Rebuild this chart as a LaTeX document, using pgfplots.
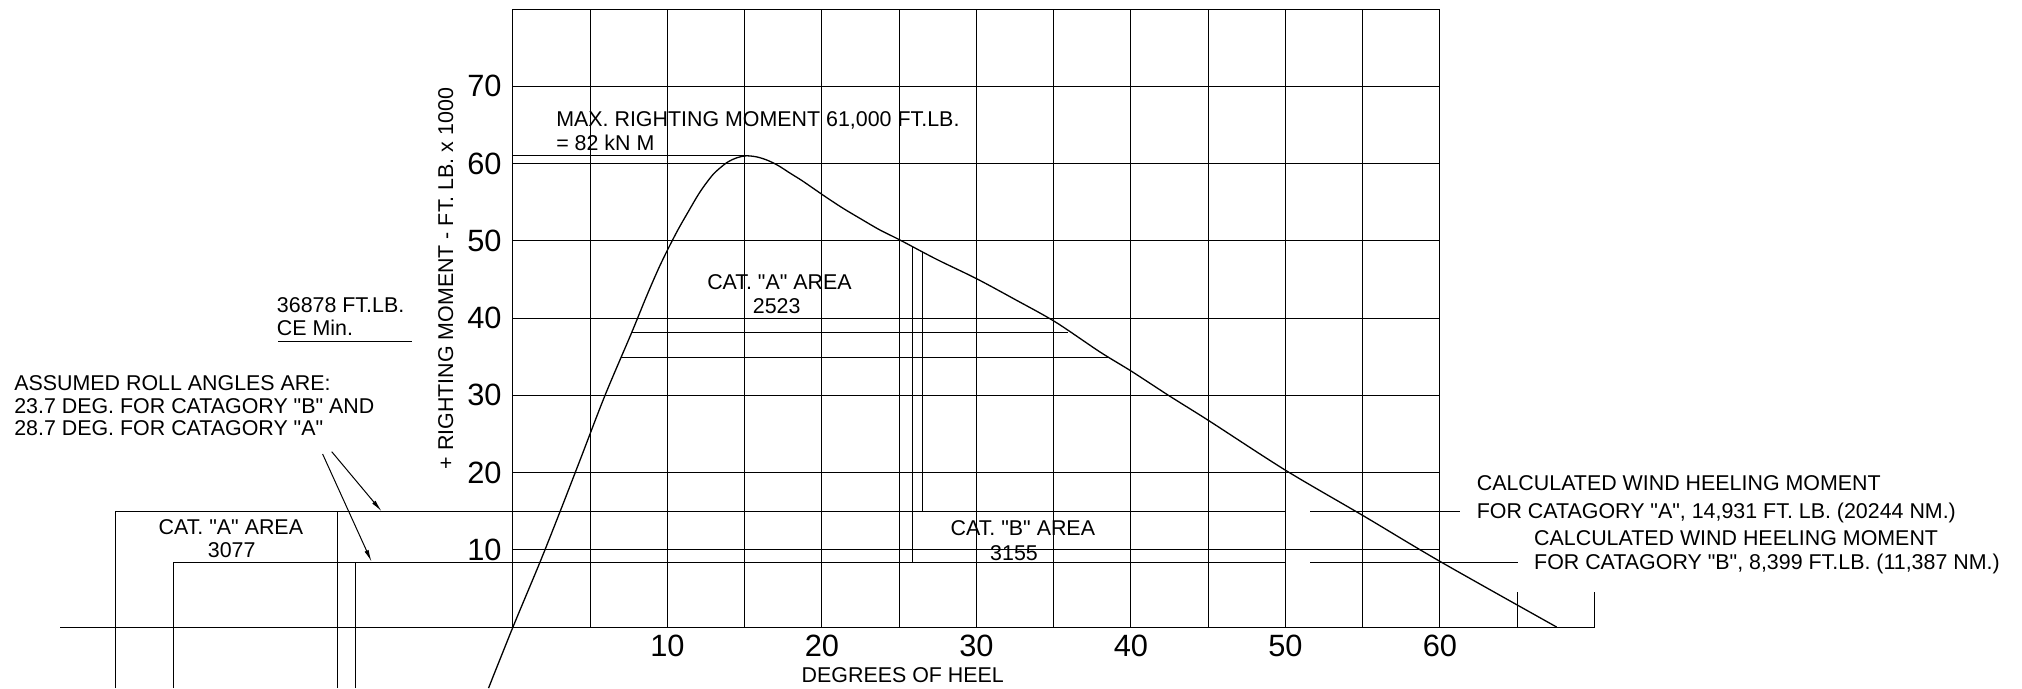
\documentclass[border=0pt]{standalone}
\usepackage{fontspec}
\setmainfont{Liberation Sans}[Ligatures=TeXOff]
\usepackage{pgfplots}
\pgfplotsset{compat=1.18}
\usetikzlibrary{arrows.meta}
\newcommand\af{\fontsize{10.7}{11.7}\selectfont}
\begin{document}
\begin{tikzpicture}[lbl/.style={font=\af, inner sep=0pt}, ln/.style={black, line width=0.5pt}]
\begin{axis}[
  x=7.725pt, y=3.8625pt,
  xmin=0, xmax=60, ymin=0, ymax=80,
  clip=false,
  axis line style={black, line width=0.5pt},
  grid=major,
  grid style={black, line width=0.5pt},
  major tick length=0pt,
  xtick={0,5,...,60},
  xticklabels={,,10,,20,,30,,40,,50,,60},
  ytick={0,10,...,80},
  yticklabels={,10,20,30,40,50,60,70,},
  xticklabel style={anchor=north, inner sep=0pt, yshift=-4pt},
  yticklabel style={anchor=east, inner sep=0pt, xshift=-5.5pt},
  ticklabel style={font=\fontsize{15.4}{18}\selectfont},
]
% page extent
\path (axis cs:-33.2,-7.9) rectangle (axis cs:97.67,81.17);

% righting moment curve
\addplot[black, line width=0.65pt, smooth, tension=0.5] coordinates {
(-1.58,-7.9) (0,0) (1.75,8.4) (3.06,15.0) (4.34,21.6) (5.95,29.95)
(7.68,38.1) (8.6,42.6) (9.4,46.3) (10.05,49.0) (10.7,51.5)
(11.3,53.6) (12.1,56.3) (12.96,58.6) (13.83,60.1) (14.5,60.75)
(15.1,61.0) (15.8,60.85) (16.5,60.4) (17.2,59.7) (17.9,58.8)
(18.7,57.8) (19.5,56.7) (20.3,55.6) (21.37,54.2) (22.46,52.9)
(23.75,51.4) (25.05,50.1) (27.42,47.6) (30,45.1) (32.5,42.4)
(35.1,39.5) (38.0,35.6) (40.04,33.1) (42.46,29.95) (45.05,26.7)
(50,20.3) (55.04,14.4) (60.04,8.45) (67.55,0)
};

% base line and end ticks
\addplot[ln] coordinates {(-29.3,0) (70,0)};
\addplot[ln] coordinates {(65.03,0) (65.03,4.57)};
\addplot[ln] coordinates {(70,0) (70,4.57)};

% heeling moment lines (cat A 14.93, cat B 8.40)
\addplot[ln] coordinates {(-25.7,-7.9) (-25.7,14.93) (50,14.93)};
\addplot[ln] coordinates {(-22.0,-7.9) (-22.0,8.40) (50,8.40)};
\addplot[ln] coordinates {(50,8.40) (50,20.3)};
\addplot[ln] coordinates {(-11.33,-7.9) (-11.33,14.93)};
\addplot[ln] coordinates {(-10.17,-7.9) (-10.17,8.40)};
\addplot[ln] coordinates {(25.85,8.40) (25.85,49.26)};
\addplot[ln] coordinates {(26.52,14.93) (26.52,48.55)};
\addplot[ln] coordinates {(51.6,14.93) (61.27,14.93)};
\addplot[ln] coordinates {(51.6,8.40) (65.03,8.40)};

% max moment and other level lines
\addplot[ln] coordinates {(0,61.0) (15.1,61.0)};
\addplot[ln] coordinates {(7.68,38.1) (35.9,38.1)};
\addplot[ln] coordinates {(6.97,34.85) (38.6,34.85)};
\addplot[ln] coordinates {(-15.2,36.93) (-6.54,36.93)};

% arrows
\addplot[ln, -{Latex[length=6pt,width=2.2pt]}] coordinates {(-11.73,22.7) (-8.5,14.98)};
\addplot[ln, -{Latex[length=6pt,width=2.2pt]}] coordinates {(-12.32,22.4) (-9.15,8.45)};

% texts
\node[lbl, anchor=base west] at (axis cs:2.78,64.77) {MAX. RIGHTING MOMENT 61,000 FT.LB.};
\node[lbl, anchor=base west] at (axis cs:2.78,61.66) {= 82 kN M};
\node[lbl, anchor=base] at (axis cs:17.25,43.7) {CAT. "A" AREA};
\node[lbl, anchor=base] at (axis cs:17.07,40.6) {2523};
\node[lbl, anchor=base] at (axis cs:33.0,11.9) {CAT. "B" AREA};
\node[lbl, anchor=base] at (axis cs:32.43,8.67) {3155};
\node[lbl, anchor=base] at (axis cs:-18.26,12.04) {CAT. "A" AREA};
\node[lbl, anchor=base] at (axis cs:-18.2,9.02) {3077};
\node[lbl, anchor=base west] at (axis cs:-15.3,40.7) {36878 FT.LB.};
\node[lbl, anchor=base west] at (axis cs:-15.3,37.8) {CE Min.};
\node[lbl, anchor=base west] at (axis cs:-32.3,30.68) {ASSUMED ROLL ANGLES ARE:};
\node[lbl, anchor=base west] at (axis cs:-32.3,27.66) {23.7 DEG. FOR CATAGORY "B" AND};
\node[lbl, anchor=base west] at (axis cs:-32.3,24.85) {28.7 DEG. FOR CATAGORY "A"};
\node[lbl, anchor=base, rotate=90] at (axis cs:-3.88,45.1) {+ RIGHTING MOMENT - FT. LB. x 1000};
\node[lbl, anchor=base] at (axis cs:25.23,-7.12) {DEGREES OF HEEL};
\node[lbl, anchor=base west] at (axis cs:62.36,17.66) {CALCULATED WIND HEELING MOMENT};
\node[lbl, anchor=base west] at (axis cs:62.36,14.1) {FOR CATAGORY "A", 14,931 FT. LB. (20244 NM.)};
\node[lbl, anchor=base west] at (axis cs:66.07,10.6) {CALCULATED WIND HEELING MOMENT};
\node[lbl, anchor=base west] at (axis cs:66.07,7.45) {FOR CATAGORY "B", 8,399 FT.LB. (11,387 NM.)};
\end{axis}
\end{tikzpicture}
\end{document}
